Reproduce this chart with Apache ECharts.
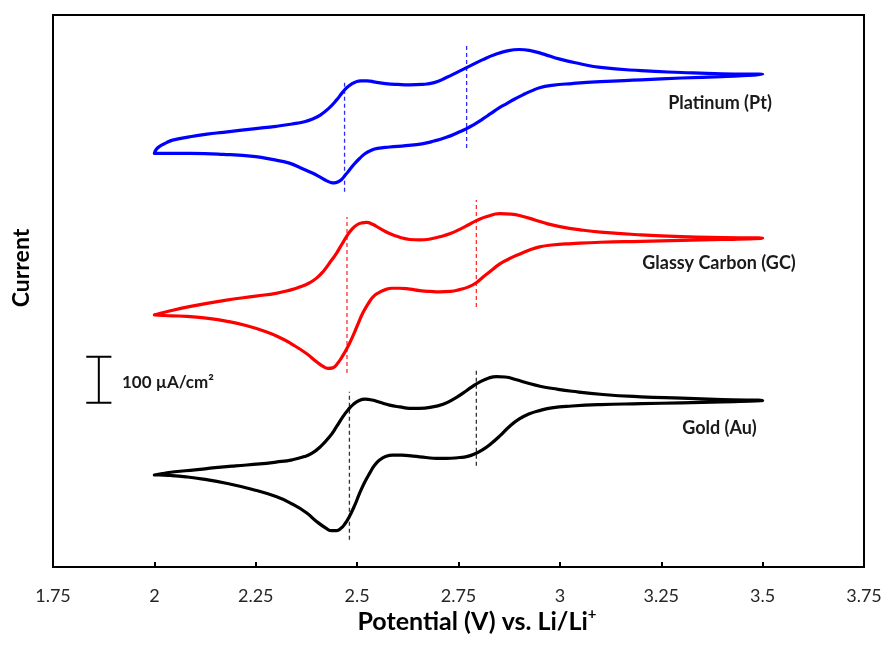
<!DOCTYPE html>
<html>
<head>
<meta charset="utf-8">
<script src="https://cdn.jsdelivr.net/npm/echarts@6/dist/echarts.min.js"></script>
<style>html,body{margin:0;padding:0;background:#fff}#c{width:888px;height:645px}</style>
</head>
<body>
<div id="c"></div>
<script>
// x ticks (V vs. Li/Li+)
const xTicks = [1.75, 2, 2.25, 2.5, 2.75, 3, 3.25, 3.5, 3.75];

// Platinum (Pt): forward scan (2.0 -> 3.5 V) and reverse scan (3.5 -> 2.0 V); current in µA/cm² with vertical offset
const ptForwardPotential = [2.000, 2.004, 2.012, 2.029, 2.045, 2.086, 2.13, 2.17, 2.25, 2.30, 2.34, 2.37, 2.39, 2.41, 2.43, 2.45, 2.465, 2.48, 2.495, 2.51, 2.525, 2.545, 2.57, 2.60, 2.63, 2.66, 2.69, 2.72, 2.75, 2.78, 2.81, 2.84, 2.87, 2.90, 2.93, 2.96, 3.00, 3.05, 3.10, 3.20, 3.30, 3.40, 3.50];
const ptForwardCurrent = [899, 907, 914, 922, 928, 935, 941, 945, 953, 958, 963, 968, 974, 983, 997, 1016, 1033, 1046, 1054, 1057, 1057, 1054, 1051, 1049, 1048, 1049, 1053, 1064, 1077, 1090, 1103, 1114, 1122, 1125, 1122, 1115, 1104, 1094, 1086, 1079, 1075, 1072, 1071];
const ptReversePotential = [3.45, 3.40, 3.30, 3.20, 3.10, 3.03, 2.98, 2.95, 2.93, 2.91, 2.89, 2.87, 2.85, 2.83, 2.81, 2.79, 2.77, 2.75, 2.72, 2.69, 2.66, 2.62, 2.58, 2.55, 2.535, 2.52, 2.506, 2.493, 2.481, 2.47, 2.461, 2.452, 2.444, 2.435, 2.424, 2.41, 2.391, 2.36, 2.333, 2.29, 2.25, 2.17, 2.09, 2.03, 2.00];
const ptReverseCurrent = [1068, 1066, 1063, 1059, 1055, 1051, 1047, 1042, 1035, 1027, 1018, 1008, 998, 986, 974, 963, 953, 945, 934, 926, 920, 916, 913, 910, 906, 899, 888, 876, 863, 851, 842, 837, 835, 836, 840, 847, 856, 868, 878, 886, 892, 897, 899, 899, 899];

// Glassy Carbon (GC)
const gcForwardPotential = [2.000, 2.03, 2.086, 2.17, 2.25, 2.30, 2.335, 2.36, 2.383, 2.40, 2.416, 2.432, 2.449, 2.462, 2.475, 2.488, 2.50, 2.512, 2.523, 2.538, 2.556, 2.58, 2.605, 2.63, 2.654, 2.68, 2.704, 2.73, 2.753, 2.775, 2.794, 2.82, 2.852, 2.88, 2.909, 2.94, 2.97, 3.00, 3.05, 3.10, 3.20, 3.30, 3.40, 3.50];
const gcForwardCurrent = [548, 555, 566, 579, 589, 595, 602, 609, 618, 628, 642, 661, 682, 701, 720, 735, 744, 748, 749, 745, 736, 725, 717, 712, 711, 713, 718, 725, 734, 744, 753, 762, 768, 767, 762, 754, 746, 740, 733, 728, 722, 718, 716, 715];
const gcReversePotential = [3.40, 3.30, 3.20, 3.10, 3.03, 2.98, 2.95, 2.925, 2.90, 2.875, 2.852, 2.83, 2.81, 2.794, 2.775, 2.753, 2.73, 2.704, 2.68, 2.654, 2.63, 2.605, 2.585, 2.57, 2.555, 2.54, 2.527, 2.514, 2.502, 2.49, 2.477, 2.465, 2.452, 2.44, 2.428, 2.416, 2.40, 2.375, 2.34, 2.309, 2.27, 2.226, 2.18, 2.128, 2.08, 2.045, 2.02, 2.00];
const gcReverseCurrent = [712, 710, 708, 706, 703, 700, 696, 689, 680, 670, 659, 644, 630, 618, 609, 603, 599, 598, 599, 601, 604, 606, 606, 603, 597, 588, 572, 552, 528, 503, 479, 460, 443, 433, 432, 436, 446, 464, 484, 499, 513, 525, 534, 541, 545, 546, 547, 548];

// Gold (Au)
const auForwardPotential = [2.000, 2.02, 2.05, 2.10, 2.15, 2.20, 2.26, 2.30, 2.34, 2.37, 2.39, 2.41, 2.432, 2.45, 2.465, 2.478, 2.49, 2.505, 2.52, 2.537, 2.556, 2.58, 2.605, 2.63, 2.654, 2.68, 2.712, 2.74, 2.761, 2.782, 2.802, 2.825, 2.844, 2.865, 2.893, 2.92, 2.951, 2.983, 3.03, 3.106, 3.20, 3.30, 3.40, 3.50];
const auForwardCurrent = [200, 203, 207, 211, 216, 220, 224, 228, 233, 240, 248, 262, 283, 306, 327, 342, 353, 362, 365, 363, 358, 352, 348, 345, 345, 347, 354, 366, 378, 391, 402, 411, 414, 413, 407, 400, 393, 388, 382, 375, 370, 367, 364, 362];
const auReversePotential = [3.40, 3.30, 3.20, 3.10, 3.03, 2.98, 2.95, 2.925, 2.90, 2.875, 2.852, 2.83, 2.81, 2.79, 2.77, 2.753, 2.72, 2.696, 2.67, 2.638, 2.61, 2.588, 2.57, 2.556, 2.543, 2.531, 2.518, 2.506, 2.494, 2.481, 2.47, 2.46, 2.449, 2.437, 2.424, 2.40, 2.375, 2.34, 2.30, 2.24, 2.177, 2.12, 2.078, 2.04, 2.012, 2.00];
const auReverseCurrent = [359, 357, 355, 353, 350, 346, 340, 333, 322, 305, 285, 268, 255, 246, 240, 238, 236, 236, 238, 241, 243, 243, 240, 233, 221, 204, 183, 160, 134, 110, 94, 84, 79, 79, 84, 99, 118, 137, 153, 169, 182, 191, 196, 199, 200, 200];

// dashed peak-potential markers
const ptDashX = [2.469, 2.770], ptDashLow = [816, 911], ptDashHigh = [1055, 1139];
const gcDashX = [2.475, 2.794], gcDashLow = [422, 565], gcDashHigh = [761, 798];
const auDashX = [2.481, 2.794], auDashLow = [59, 220], auDashHigh = [381, 432];

// scale bar (100 µA/cm²)
const scaleBarX = 1.863, scaleBarCap = 0.031, scaleBarLow = 357, scaleBarHigh = 457;

const zip = (xs, ys) => xs.map((x, i) => [x, ys[i]]);

function curve(name, fx, fy, rx, ry, color) {
  return { name, type: 'line', data: zip(fx, fy).concat(zip(rx, ry)), smooth: 0.5, showSymbol: false, symbol: 'none',
    lineStyle: { color, width: 3.2, join: 'round', cap: 'round' }, z: 3, animation: false };
}
function dashes(xs, lows, highs, color) {
  return xs.map((x, i) => ({ type: 'line', data: [[x, lows[i]], [x, highs[i]]], showSymbol: false, symbol: 'none',
    lineStyle: { color, width: 1.3, type: [4, 3] }, z: 2, animation: false }));
}

const series = [
  curve('Platinum (Pt)', ptForwardPotential, ptForwardCurrent, ptReversePotential, ptReverseCurrent, '#0000ff'),
  curve('Glassy Carbon (GC)', gcForwardPotential, gcForwardCurrent, gcReversePotential, gcReverseCurrent, '#ff0000'),
  curve('Gold (Au)', auForwardPotential, auForwardCurrent, auReversePotential, auReverseCurrent, '#000000'),
  ...dashes(ptDashX, ptDashLow, ptDashHigh, '#2b2bff'),
  ...dashes(gcDashX, gcDashLow, gcDashHigh, '#ff3030'),
  ...dashes(auDashX, auDashLow, auDashHigh, '#333333'),
  { type: 'line', showSymbol: false, symbol: 'none', animation: false, lineStyle: { color: '#000', width: 2 },
    data: [[scaleBarX - scaleBarCap, scaleBarHigh], [scaleBarX + scaleBarCap, scaleBarHigh], [scaleBarX, scaleBarHigh],
           [scaleBarX, scaleBarLow], [scaleBarX - scaleBarCap, scaleBarLow], [scaleBarX + scaleBarCap, scaleBarLow]] }
];

const chart = echarts.init(document.getElementById('c'), null, { renderer: 'canvas' });
const F = 'Lato, "Open Sans", sans-serif';
chart.setOption({
  backgroundColor: '#fff',
  animation: false,
  grid: { left: 53, right: 24, top: 15, bottom: 78, show: true, borderColor: '#000', borderWidth: 2, containLabel: false },
  xAxis: {
    type: 'value', min: xTicks[0], max: xTicks[xTicks.length - 1], interval: 0.25,
    axisLine: { show: true, lineStyle: { color: '#000', width: 2 } },
    axisTick: { show: true, inside: true, length: 5, lineStyle: { color: '#000', width: 2 } },
    axisLabel: { color: '#262626', fontFamily: F, fontSize: 18, margin: 20 },
    splitLine: { show: false }
  },
  yAxis: {
    type: 'value', min: 0, max: 1200,
    axisLine: { show: true, lineStyle: { color: '#000', width: 2 } },
    axisTick: { show: false }, axisLabel: { show: false }, splitLine: { show: false }
  },
  series,
  graphic: [
    { type: 'text', x: 477, y: 622, style: { text: 'Potential (V) vs. Li/Li{s|+}', fontFamily: F, fontWeight: 'bold', fontSize: 25, fill: '#000', align: 'center', verticalAlign: 'middle',
        rich: { s: { fontFamily: F, fontWeight: 'bold', fontSize: 15, fill: '#000', verticalAlign: 'top', lineHeight: 30 } } } },
    { type: 'text', x: 22, y: 268, rotation: Math.PI / 2, style: { text: 'Current', fontFamily: F, fontWeight: 'bold', fontSize: 23, fill: '#000', align: 'center', verticalAlign: 'middle' } },
    { type: 'text', x: 122, y: 383, style: { text: '100 µA/cm²', fontFamily: F, fontWeight: 'bold', fontSize: 17, fill: '#1a1a1a', align: 'left', verticalAlign: 'middle' } },
    { type: 'text', x: 720, y: 103, style: { text: 'Platinum (Pt)', fontFamily: F, fontWeight: 'bold', fontSize: 18, fill: '#1a1a1a', align: 'center', verticalAlign: 'middle' } },
    { type: 'text', x: 719, y: 263, style: { text: 'Glassy Carbon (GC)', fontFamily: F, fontWeight: 'bold', fontSize: 18, fill: '#1a1a1a', align: 'center', verticalAlign: 'middle' } },
    { type: 'text', x: 719.5, y: 428, style: { text: 'Gold (Au)', fontFamily: F, fontWeight: 'bold', fontSize: 18, fill: '#1a1a1a', align: 'center', verticalAlign: 'middle' } }
  ]
});
</script>
</body>
</html>
